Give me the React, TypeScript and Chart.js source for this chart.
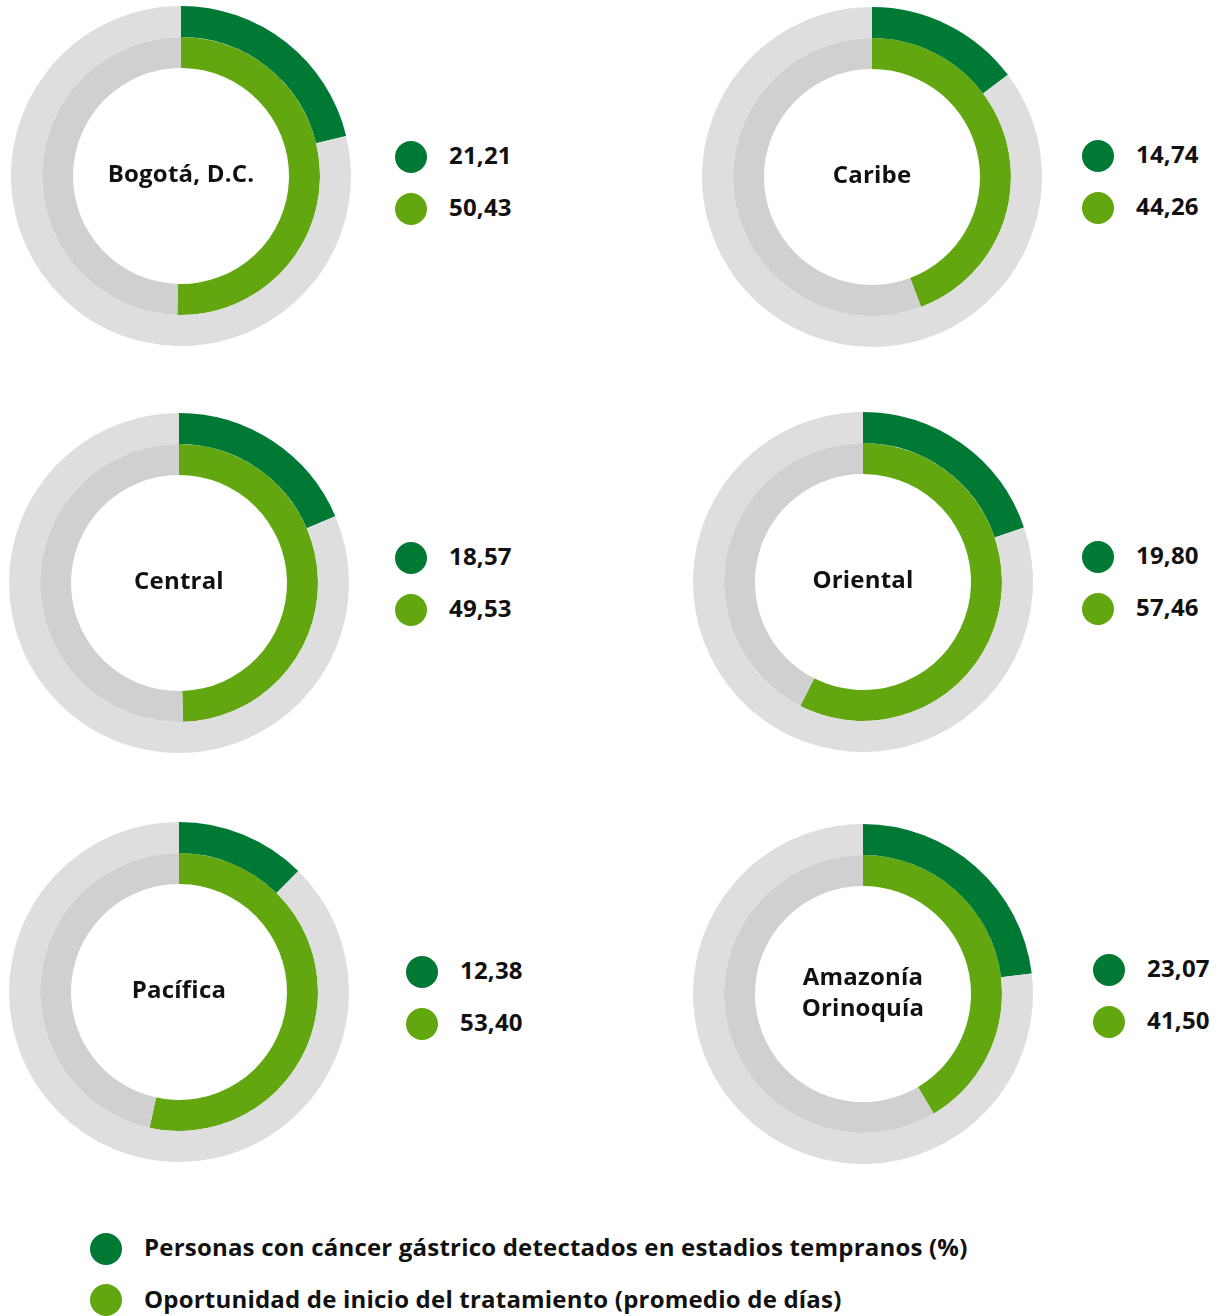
import React, { useEffect, useRef } from "react";
import { Chart, registerables } from "chart.js";

Chart.register(...registerables);

const regions = ["Bogotá, D.C.", "Caribe", "Central", "Oriental", "Pacífica", "Amazonía\nOrinoquía"];
const earlyStagePct = [21.21, 14.74, 18.57, 19.8, 12.38, 23.07];
const treatmentDays = [50.43, 44.26, 49.53, 57.46, 53.4, 41.5];
const valueLabelsEarly = ["21,21", "14,74", "18,57", "19,80", "12,38", "23,07"];
const valueLabelsDays = ["50,43", "44,26", "49,53", "57,46", "53,40", "41,50"];
const seriesNames = [
  "Personas con cáncer gástrico detectados en estadios tempranos (%)",
  "Oportunidad de inicio del tratamiento (promedio de días)",
];
const scaleMax = 100;

const DARK = "#007934";
const LIGHT = "#62a70f";
const GRAY_OUT = "#dedede";
const GRAY_IN = "#d0d0d0";
const FONT = "'Open Sans', Lato, sans-serif";

// layout: doughnut centers and legend positions
const layout = [
  { cx: 181, cy: 176, lx: 411, ly: 157 },
  { cx: 872, cy: 177, lx: 1098, ly: 156 },
  { cx: 179, cy: 583, lx: 411, ly: 558 },
  { cx: 863, cy: 582, lx: 1098, ly: 557 },
  { cx: 179, cy: 992, lx: 422, ly: 972 },
  { cx: 863, cy: 994, lx: 1109, ly: 970 },
];
const R = 170;

function Donut({ idx }: { idx: number }) {
  const ref = useRef<HTMLCanvasElement>(null);
  useEffect(() => {
    if (!ref.current) return;
    const early = earlyStagePct[idx];
    const days = treatmentDays[idx];
    const chart = new Chart(ref.current, {
      type: "doughnut",
      data: {
        labels: ["valor", "resto"],
        datasets: [
          {
            data: [early, scaleMax - early],
            backgroundColor: [DARK, GRAY_OUT],
            borderWidth: 0,
          },
          {
            data: [days, scaleMax - days],
            backgroundColor: [LIGHT, GRAY_IN],
            borderWidth: 0,
          },
        ],
      },
      options: {
        animation: false,
        responsive: false,
        cutout: (108 / 170) * 100 + "%",
        layout: { padding: 0 },
        plugins: { legend: { display: false }, tooltip: { enabled: false } },
        events: [],
      },
    });
    return () => chart.destroy();
  }, [idx]);
  const p = layout[idx];
  return (
    <canvas
      ref={ref}
      width={2 * R}
      height={2 * R}
      style={{ position: "absolute", left: p.cx - R, top: p.cy - R, width: 2 * R, height: 2 * R }}
    />
  );
}

const textStyle: React.CSSProperties = {
  position: "absolute",
  fontFamily: FONT,
  fontWeight: 700,
  fontSize: 24,
  letterSpacing: "0.2px",
  color: "#111",
  whiteSpace: "pre",
  lineHeight: "31px",
};

function Dot({ x, y, color }: { x: number; y: number; color: string }) {
  return (
    <div
      style={{
        position: "absolute",
        left: x - 16,
        top: y - 16,
        width: 32,
        height: 32,
        borderRadius: "50%",
        background: color,
      }}
    />
  );
}

export default function App() {
  useEffect(() => {
    document.body.style.margin = "0";
  }, []);
  return (
    <div style={{ position: "absolute", left: 0, top: 0, width: 1224, height: 1316, background: "#fff", overflow: "hidden" }}>
      {regions.map((name, i) => {
        const p = layout[i];
        return (
          <React.Fragment key={i}>
            <Donut idx={i} />
            <div
              style={{
                ...textStyle,
                left: p.cx - 100,
                width: 200,
                top: p.cy - (name.includes("\n") ? 34 : 19),
                textAlign: "center",
                whiteSpace: "pre-line",
              }}
            >
              {name}
            </div>
            <Dot x={p.lx} y={p.ly} color={DARK} />
            <Dot x={p.lx} y={p.ly + 52} color={LIGHT} />
            <div style={{ ...textStyle, left: p.lx + 38, top: p.ly - 18 }}>{valueLabelsEarly[i]}</div>
            <div style={{ ...textStyle, left: p.lx + 38, top: p.ly + 34 }}>{valueLabelsDays[i]}</div>
          </React.Fragment>
        );
      })}
      <Dot x={106} y={1249} color={DARK} />
      <Dot x={106} y={1300} color={LIGHT} />
      <div style={{ ...textStyle, left: 144, top: 1231 }}>{seriesNames[0]}</div>
      <div style={{ ...textStyle, left: 144, top: 1283 }}>{seriesNames[1]}</div>
    </div>
  );
}
